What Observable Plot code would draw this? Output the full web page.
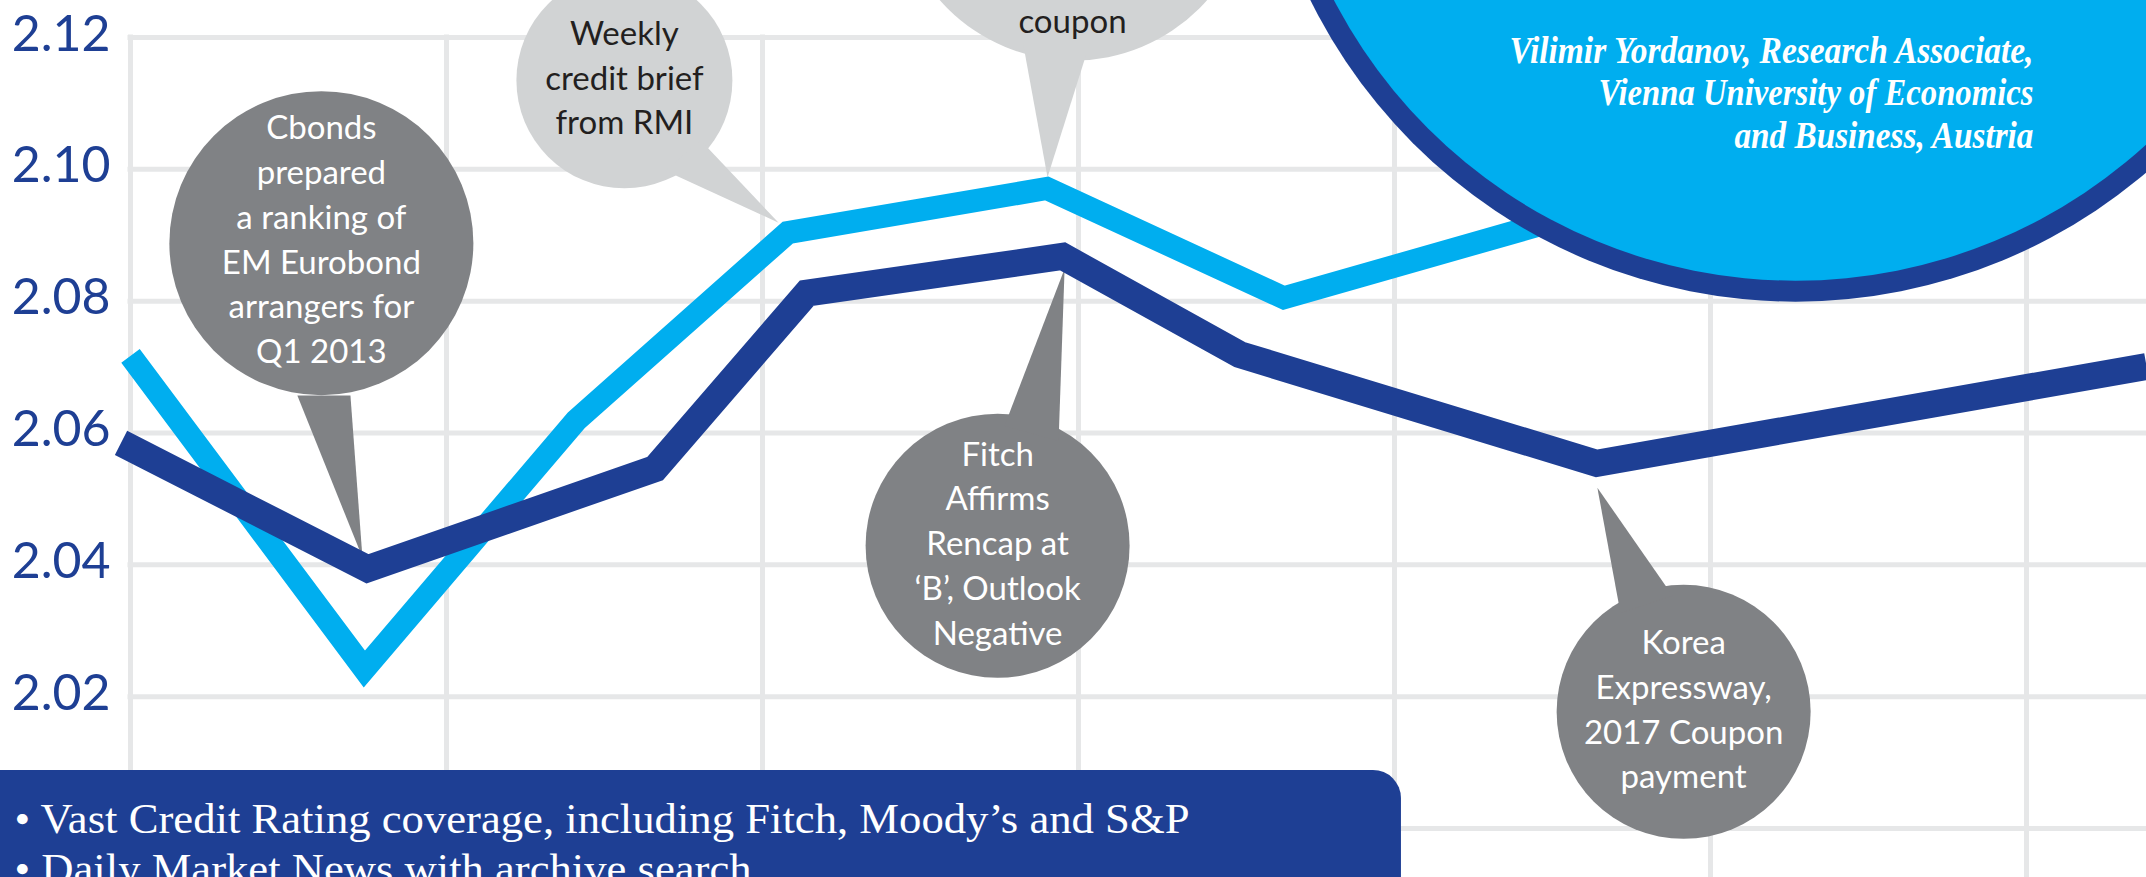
<!DOCTYPE html>
<html><head><meta charset="utf-8">
<script src="https://cdn.jsdelivr.net/npm/d3@7"></script>
<script src="https://cdn.jsdelivr.net/npm/@observablehq/plot@0.6"></script>
<style>
html,body{margin:0;padding:0;background:#fff;overflow:hidden}
</style></head><body><div id="chart"></div>
<script>
// ---- series data (x = period index, gridlines at whole periods; y = price) ----
const darkPeriod  = [-0.03, 0.75, 1.66, 2.14, 2.95, 3.51, 4.64, 6.38];
const darkValue   = [2.0585, 2.0394, 2.0546, 2.0812, 2.0868, 2.0719, 2.0554, 2.0701];
const lightPeriod = [0.0, 0.74, 1.41, 2.08, 2.90, 3.65, 4.65];
const lightValue  = [2.0717, 2.0242, 2.0619, 2.0904, 2.0971, 2.0805, 2.0942];
const yTicks = [2.00, 2.02, 2.04, 2.06, 2.08, 2.10, 2.12];
const xGrid = [0, 1, 2, 3, 4, 5, 6];

// ---- annotation texts ----
const noteCbonds = "Cbonds\nprepared\na ranking of\nEM Eurobond\narrangers for\nQ1 2013";
const noteWeekly = "Weekly\ncredit brief\nfrom RMI";
const noteCoupon = "coupon";
const noteFitch  = "Fitch\nAffirms\nRencap at\n‘B’, Outlook\nNegative";
const noteKorea  = "Korea\nExpressway,\n2017 Coupon\npayment";
const authorLines = ["Vilimir Yordanov, Research Associate,", "Vienna University of Economics", "and Business, Austria"];
const boxLines = ["• Vast Credit Rating coverage, including Fitch, Moody’s and S&P", "• Daily Market News with archive search"];

// ---- colours ----
const DARK = "#1e3f94", LIGHT = "#00aeef", GRAY = "#808285", PALE = "#d1d3d4", GRID = "#e6e7e8";

// ---- layout of annotations (in data units) ----
const bubbles = [
  {t: 0.604, v: 2.0888, r: 152, fill: GRAY},
  {t: 1.563, v: 2.1135, r: 108, fill: PALE},
  {t: 2.984, v: 2.1435, r: 178, fill: PALE},
  {t: 2.744, v: 2.0429, r: 132, fill: GRAY},
  {t: 4.915, v: 2.0177, r: 127, fill: GRAY}
];
const tails = [
  {id: 0, fill: GRAY, pts: [[0.528, 2.0657], [0.696, 2.0657], [0.734, 2.0411]]},
  {id: 1, fill: PALE, pts: [[1.693, 2.0998], [1.804, 2.1044], [2.051, 2.0919]]},
  {id: 2, fill: PALE, pts: [[2.823, 2.1195], [3.038, 2.1195], [2.902, 2.0988]]},
  {id: 3, fill: GRAY, pts: [[2.766, 2.0611], [2.937, 2.0588], [2.956, 2.0849]]},
  {id: 4, fill: GRAY, pts: [[4.642, 2.0517], [4.715, 2.0327], [4.880, 2.0353]]}
];
const notes = [
  {t: 0.604, v: 2.0893, text: noteCbonds, fill: "#fff"},
  {t: 1.563, v: 2.1138, text: noteWeekly, fill: "#231f20"},
  {t: 2.981, v: 2.1224, text: noteCoupon, fill: "#231f20"},
  {t: 2.744, v: 2.0432, text: noteFitch, fill: "#fff"},
  {t: 4.915, v: 2.0180, text: noteKorea, fill: "#fff"}
];
const badge = {t: 5.269, v: 2.1620};
const authorPos = authorLines.map((s, i) => ({text: s, t: 6.022, v: [2.1161, 2.1097, 2.1033][i]}));
const box = {t1: -0.6, t2: 4.022, v1: 1.98, v2: 2.0088};
const boxPos = boxLines.map((s, i) => ({text: s, t: -0.367, v: [1.99936, 1.99178][i]}));
const fitLengths = new Map([
  [authorLines[0], 524], [authorLines[1], 435], [authorLines[2], 299],
  [boxLines[0], 1175], [boxLines[1], 737]
]);

const dark = darkPeriod.map((t, i) => ({t, v: darkValue[i]}));
const light = lightPeriod.map((t, i) => ({t, v: lightValue[i]}));
const tailPts = tails.flatMap(d => d.pts.map(([t, v]) => ({id: d.id, fill: d.fill, t, v})));

const lineStyle = {x: "t", y: "v", strokeLinejoin: "miter", strokeLinecap: "butt", strokeMiterlimit: 10, curve: "linear"};

const chart = Plot.plot({
  width: 2146, height: 877,
  marginLeft: 130, marginRight: 120, marginTop: 37, marginBottom: 49,
  x: {domain: [0, 6], axis: null},
  y: {domain: [2.00, 2.12]},
  style: {fontFamily: "Lato, sans-serif", background: "#fff", overflow: "hidden"},
  marks: [
    Plot.ruleY(yTicks, {x1: 0, x2: 6.4, stroke: GRID, strokeWidth: 5, strokeLinecap: "square"}),
    Plot.ruleX(xGrid, {y1: 2.12, y2: 1.99, stroke: GRID, strokeWidth: 5, strokeLinecap: "square"}),
    Plot.axisY(yTicks, {anchor: "left", tickSize: 0, tickPadding: 20, tickFormat: d3.format(".2f"),
      fontSize: 50, color: DARK, dy: -3, label: null}),
    ...bubbles.map(b => Plot.dot([b], {x: "t", y: "v", r: b.r, fill: b.fill, stroke: null})),
    Plot.line(tailPts, {x: "t", y: "v", z: "id", fill: "fill", stroke: null, curve: "linear-closed"}),
    Plot.text(notes, {x: "t", y: "v", text: "text", fill: "fill", fontSize: 33, lineHeight: 1.357, dy: -3}),
    Plot.line(light, {...lineStyle, stroke: LIGHT, strokeWidth: 23}),
    Plot.line(dark, {...lineStyle, stroke: DARK, strokeWidth: 27}),
    Plot.dot([badge], {x: "t", y: "v", r: 541, fill: DARK, stroke: null}),
    Plot.dot([badge], {x: "t", y: "v", r: 520, fill: LIGHT, stroke: null}),
    Plot.text(authorPos, {x: "t", y: "v", text: "text", textAnchor: "end", lineAnchor: "bottom",
      fill: "#fff", fontSize: 38, fontWeight: "bold", fontStyle: "italic",
      fontFamily: "'Liberation Serif', 'Times New Roman', serif"}),
    Plot.rect([box], {x1: "t1", x2: "t2", y1: "v1", y2: "v2", fill: DARK, rx: 28}),
    Plot.text(boxPos, {x: "t", y: "v", text: "text", textAnchor: "start", lineAnchor: "bottom",
      fill: "#fff", fontSize: 42, fontFamily: "'Liberation Serif', 'Times New Roman', serif"})
  ]
});

chart.querySelectorAll("text").forEach(el => {
  const s = el.textContent;
  if (fitLengths.has(s)) {
    el.setAttribute("textLength", fitLengths.get(s));
    el.setAttribute("lengthAdjust", "spacingAndGlyphs");
  }
});
document.getElementById("chart").appendChild(chart);
</script>
</body></html>
